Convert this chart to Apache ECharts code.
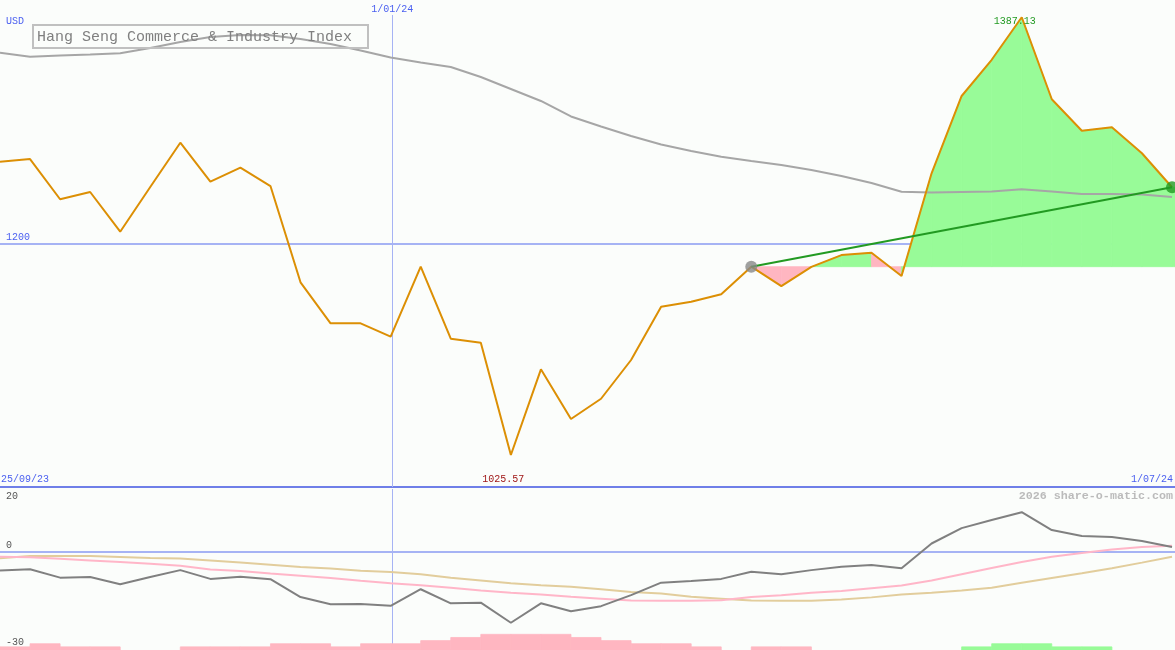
<!DOCTYPE html>
<html><head><meta charset="utf-8">
<script src="https://cdn.jsdelivr.net/npm/echarts@6/dist/echarts.min.js"></script>
<style>html,body{margin:0;padding:0;background:#fbfdfb}#c{width:1175px;height:650px}</style>
</head><body><div id="c"></div><script>
// ---- data (weekly points) ----
const title = 'Hang Seng Commerce & Industry Index';
const currency = 'USD';
const price = [1267.8,1270.0,1236.8,1242.8,1210.0,1246.9,1283.5,1251.3,1262.9,1247.7,
  1168.2,1134.3,1134.3,1123.3,1181.1,1121.6,1118.3,1025.57,1096.3,1055.3,
  1072.0,1104.0,1148.0,1152.2,1158.3,1181.1,1165.1,1180.9,1190.7,1192.6,
  1173.4,1258.2,1322.1,1352.0,1387.13,1319.4,1293.4,1296.2,1274.8,1246.7];
const movingAvg = [1357.9,1354.6,1355.5,1356.4,1357.4,1361.7,1366.7,1370.8,1372.5,1372.2,
  1369.2,1365.0,1359.7,1353.9,1349.8,1346.0,1337.8,1327.9,1318.0,1305.2,
  1296.9,1289.0,1282.0,1276.7,1271.9,1268.4,1265.1,1261.0,1256.0,1250.2,
  1243.0,1242.4,1242.8,1243.2,1245.0,1243.2,1241.1,1241.1,1240.7,1238.7];
const momentum = [-6.0,-5.6,-8.3,-8.1,-10.4,-8.1,-5.9,-8.7,-8.0,-8.8,
  -14.5,-16.8,-16.7,-17.3,-12.0,-16.5,-16.3,-22.7,-16.5,-19.0,
  -17.4,-13.9,-9.9,-9.4,-8.7,-6.4,-7.2,-5.9,-4.8,-4.3,
  -5.3,2.6,7.5,10.1,12.6,6.9,5.0,4.7,3.4,1.5];
const signalPink = [-1.6,-1.8,-2.3,-2.8,-3.3,-3.9,-4.5,-5.7,-6.2,-7.0,
  -7.7,-8.4,-9.3,-10.1,-10.7,-11.5,-12.4,-13.1,-13.7,-14.4,
  -15.0,-15.6,-15.7,-15.7,-15.5,-14.5,-13.9,-13.1,-12.6,-11.7,
  -10.8,-9.2,-7.2,-5.2,-3.3,-1.6,-0.4,0.7,1.5,1.9];
const signalTan = [-2.1,-1.4,-1.4,-1.4,-1.7,-2.0,-2.2,-2.8,-3.5,-4.2,
  -4.9,-5.4,-6.1,-6.5,-7.2,-8.3,-9.2,-10.1,-10.7,-11.2,
  -12.0,-12.9,-13.4,-14.4,-15.0,-15.6,-15.7,-15.7,-15.3,-14.6,
  -13.7,-13.1,-12.4,-11.5,-9.9,-8.4,-6.9,-5.3,-3.5,-1.6];
const histogram = [-1,-2,-1,-1,0,0,-1,-1,-1,-2,
  -2,-1,-2,-2,-3,-4,-5,-5,-5,-4,
  -3,-2,-2,-1,0,-1,-1,0,0,0,
  0,0,1,2,2,1,1,0,0];
const dateLabels = ['25/09/23','1/01/24','1/07/24'];
const dateIndex = [-0.95, 13.05, 39.1];
const priceGridValue = 1200;
const lowerTickLabels = ['20','0','-30'];
const lowerTickValues = [20, 0, -30];
const trendStart = 25;
const lowLabel = '1025.57';
const highLabel = '1387.13';

// ---- styling ----
const GREEN_FILL = '#98fb98', PINK_FILL = '#ffb6c1';
const BLUE_TXT = '#4a5ff0', GRID_BLUE = '#a6b3f4';
const MONO = '"Liberation Mono","DejaVu Sans Mono",monospace';
const XMAX = 39.1;
const last = price.length - 1;
const base = price[trendStart];

const segs = [];
for (let i = trendStart; i < last; i++) segs.push([i, i + 1, price[i], price[i + 1]]);
segs.push([last, XMAX, price[last], price[last]]);

const histData = histogram.map((h, j) => [j, h]);

const chart = echarts.init(document.getElementById('c'), null, {renderer: 'canvas'});
const option = {
  backgroundColor: '#fbfdfb',
  animation: false,
  grid: [
    {left: 0, right: 0, top: 15, height: 472},
    {left: 0, right: 0, top: 489, height: 161}
  ],
  xAxis: [
    {type: 'value', gridIndex: 0, min: 0, max: XMAX, axisLabel: {show: false}, axisTick: {show: false}, splitLine: {show: false},
      axisLine: {show: true, onZero: false, lineStyle: {color: '#6f7fe8', width: 2}}},
    {type: 'value', gridIndex: 1, min: 0, max: XMAX, show: false}
  ],
  yAxis: [
    {type: 'value', gridIndex: 0, min: 999.1, max: 1389.0, show: false},
    {type: 'value', gridIndex: 1, min: -31.4, max: 20, show: false},
    {type: 'value', gridIndex: 1, min: 0, max: 51.4, show: false}
  ],
  series: [
    {type: 'line', xAxisIndex: 0, yAxisIndex: 0, z: 1, data: [[0, priceGridValue]], symbol: 'none', lineStyle: {opacity: 0}, silent: true,
      markLine: {z: 1, silent: true, symbol: ['none', 'none'], label: {show: false}, animation: false,
        data: [
          {yAxis: priceGridValue, lineStyle: {color: GRID_BLUE, width: 2, type: 'solid'}},
          {xAxis: dateIndex[1], lineStyle: {color: GRID_BLUE, width: 1, type: 'solid'}}
        ]}},
    {type: 'custom', xAxisIndex: 0, yAxisIndex: 0, z: 2, data: segs, silent: true,
      renderItem: function (params, api) {
        const a = api.value(0), b = api.value(1), v0 = api.value(2), v1 = api.value(3);
        const p0 = api.coord([a, v0]), p1 = api.coord([b, v1]);
        const b1 = api.coord([b, base]), b0 = api.coord([a, base]);
        const col = v1 >= base ? GREEN_FILL : PINK_FILL;
        return {type: 'polygon', shape: {points: [p0, p1, b1, b0]},
          style: {fill: col, stroke: col, lineWidth: 0.8}};
      }},
    {type: 'line', xAxisIndex: 0, yAxisIndex: 0, z: 3, symbol: 'none', data: movingAvg.map((v, i) => [i, v]),
      lineStyle: {color: '#a6a6a6', width: 2}},
    {type: 'line', xAxisIndex: 0, yAxisIndex: 0, z: 4, symbol: 'none', data: price.map((v, i) => [i, v]),
      lineStyle: {color: '#dc8f04', width: 2}},
    {type: 'line', xAxisIndex: 0, yAxisIndex: 0, z: 5, symbol: 'none', data: [[trendStart, price[trendStart]], [last, price[last]]],
      lineStyle: {color: '#229a22', width: 2}},
    {type: 'scatter', xAxisIndex: 0, yAxisIndex: 0, z: 6, symbolSize: 12, data: [[trendStart, price[trendStart]]], itemStyle: {color: '#888888'}},
    {type: 'scatter', xAxisIndex: 0, yAxisIndex: 0, z: 6, symbolSize: 12, data: [[last, price[last]]], itemStyle: {color: '#229a22'}},
    // lower panel
    {type: 'line', xAxisIndex: 1, yAxisIndex: 1, z: 1, data: [[0, 0]], symbol: 'none', lineStyle: {opacity: 0}, silent: true,
      markLine: {z: 1, silent: true, symbol: ['none', 'none'], label: {show: false}, animation: false,
        data: [
          {yAxis: 0, lineStyle: {color: GRID_BLUE, width: 2, type: 'solid'}},
          {xAxis: dateIndex[1], lineStyle: {color: GRID_BLUE, width: 1, type: 'solid'}}
        ]}},
    {type: 'custom', xAxisIndex: 1, yAxisIndex: 2, z: 2, data: histData, silent: true,
      renderItem: function (params, api) {
        const j = api.value(0), h = api.value(1);
        if (!h) return null;
        const p0 = api.coord([j, 0]), p1 = api.coord([j + 1, Math.abs(h)]);
        const col = h > 0 ? GREEN_FILL : PINK_FILL;
        return {type: 'rect', shape: {x: p0[0], y: p1[1], width: p1[0] - p0[0], height: p0[1] - p1[1]},
          style: {fill: col, stroke: col, lineWidth: 0.8}};
      }},
    {type: 'line', xAxisIndex: 1, yAxisIndex: 1, z: 3, symbol: 'none', data: signalTan.map((v, i) => [i, v]),
      lineStyle: {color: '#e2cd9c', width: 2}},
    {type: 'line', xAxisIndex: 1, yAxisIndex: 1, z: 4, symbol: 'none', data: signalPink.map((v, i) => [i, v]),
      lineStyle: {color: '#ffb6c8', width: 2}},
    {type: 'line', xAxisIndex: 1, yAxisIndex: 1, z: 5, symbol: 'none', data: momentum.map((v, i) => [i, v]),
      lineStyle: {color: '#808080', width: 2}}
  ]
};
chart.setOption(option);

// ---- text labels placed through the axes ----
const P = (g, pt) => chart.convertToPixel({gridIndex: g}, pt);
const W = 1175, CH = 6;
const txt = (x, y, s, color, size, align, weight) => ({
  type: 'text', z: 100, style: {x: x, y: y, text: s, fill: color, font: (weight ? weight + ' ' : '') + size + 'px ' + MONO, textAlign: align, textVerticalAlign: 'middle'}
});
// centred label clamped inside the canvas
const clampLabel = (cx, y, s, color) => {
  const w = s.length * CH;
  let left = cx - w / 2;
  if (left < 1) left = 1;
  if (left + w > W - 2) left = W - 2 - w;
  return txt(left, y, s, color, 10, 'left');
};
const els = [];
const yBottom0 = 487;
els.push(txt(6, 21, currency, BLUE_TXT, 10, 'left'));
els.push({type: 'rect', z: 99, shape: {x: 33, y: 25, width: 335, height: 23}, style: {fill: null, stroke: '#c0c0c0', lineWidth: 2}});
els.push(txt(37, 37, title, '#808080', 15, 'left'));
const g1200 = P(0, [0, priceGridValue]);
els.push(txt(6, g1200[1] - 6, String(priceGridValue), BLUE_TXT, 10, 'left'));
// date labels
const d0 = P(0, [dateIndex[0], 999.1]);
els.push(clampLabel(d0[0], yBottom0 - 8, dateLabels[0], BLUE_TXT));
const d1 = P(0, [dateIndex[1], 999.1]);
els.push(clampLabel(d1[0], 9, dateLabels[1], BLUE_TXT));
const d2 = P(0, [dateIndex[2], 999.1]);
els.push(clampLabel(d2[0], yBottom0 - 8, dateLabels[2], BLUE_TXT));
// extremes
const iLow = price.indexOf(Math.min.apply(null, price));
const iHigh = price.indexOf(Math.max.apply(null, price));
const pl = P(0, [iLow, price[iLow]]);
els.push(txt(pl[0] - 7.5, yBottom0 - 8, lowLabel, '#a01818', 10, 'center'));
const ph = P(0, [iHigh, price[iHigh]]);
els.push(txt(ph[0] - 7, ph[1] + 4, highLabel, '#229a22', 10, 'center'));
// lower panel labels
els.push(txt(6, 496, lowerTickLabels[0], '#555555', 10, 'left'));
const z0 = P(1, [0, lowerTickValues[1]]);
els.push(txt(6, z0[1] - 6, lowerTickLabels[1], '#555555', 10, 'left'));
els.push(txt(6, 642, lowerTickLabels[2], '#555555', 10, 'left'));
els.push(txt(1173, 496, '2026 share-o-matic.com', '#bbbbbb', 11.7, 'right', 'bold'));
chart.setOption({graphic: {elements: els}});
</script></body></html>
